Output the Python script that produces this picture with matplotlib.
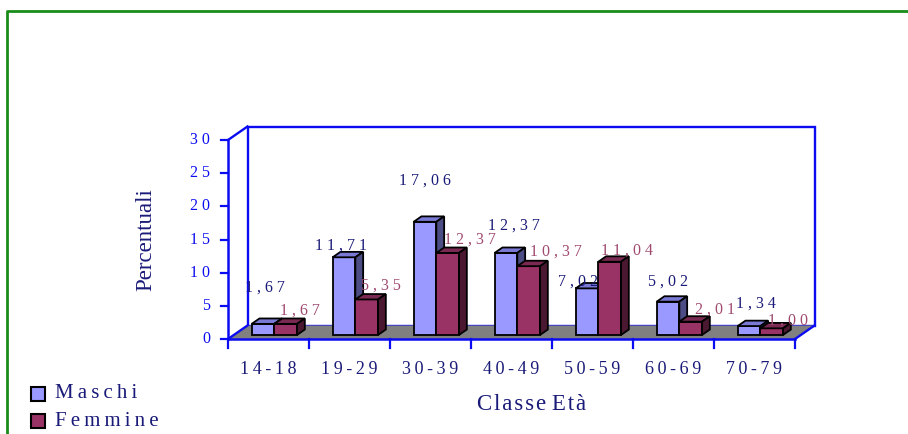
import numpy as np
import matplotlib
matplotlib.use("Agg")
from matplotlib import pyplot as plt
from matplotlib.patches import Polygon, Rectangle

# distribuzione percentuale per classe di eta'
classi = ["14-18", "19-29", "30-39", "40-49", "50-59", "60-69", "70-79"]
maschi = [1.67, 11.71, 17.06, 12.37, 7.02, 5.02, 1.34]
femmine = [1.67, 5.35, 12.37, 10.37, 11.04, 2.01, 1.00]
yticks = [0, 5, 10, 15, 20, 25, 30]

# spostamento delle etichette dei valori (pixel)
off_m = [(2, 36), (-3, 12), (0, 41), (8, 27), (-9, 7), (0, 20), (7, 22)]
off_f = [(14, 13), (14, 14), (22, 13), (27, 15), (17, 11), (24, 12), (16, 8)]

plt.rcParams['font.family'] = ['Liberation Serif', 'DejaVu Serif']

BLUE = "#0c0cf2"
NAVY = "#1a1a78"
ROSE = "#a04a70"
HAIR = "\u200a"
THIN = "\u2009"

def spaced(s, sep=" "):
    return sep.join(s)

fig = plt.figure(figsize=(9.08, 4.34), dpi=100)
W, H = 908, 434
# asse: x = indice categoria, y = percentuale
x0, x1 = 228, 795
y0, y1 = 339, 140
ax = fig.add_axes([x0 / W, (H - y0) / H, (x1 - x0) / W, (y0 - y1) / H])
n = len(classi)
ax.set_xlim(0, n)
ax.set_ylim(0, 30)
ax.axis("off")

pxx = (x1 - x0) / n
pxy = (y0 - y1) / 30.0
DX = 19.5 / pxx
DY = 13.5 / pxy

def P(pts, **kw):
    p = Polygon(pts, closed=True, clip_on=False, **kw)
    ax.add_patch(p)
    return p

# pareti e pavimento
P([(DX, DY), (n + DX, DY), (n + DX, 30 + DY), (DX, 30 + DY)],
  facecolor="white", edgecolor=BLUE, lw=1.7, zorder=1)
P([(0, 0), (n, 0), (n + DX, DY), (DX, DY)],
  facecolor="#808080", edgecolor="none", zorder=2)
ax.plot([0, DX], [0, DY], color=BLUE, lw=1.7, clip_on=False, zorder=2)
ax.plot([0, DX], [30, 30 + DY], color=BLUE, lw=1.7, clip_on=False, zorder=2)
ax.plot([n, n + DX], [0, DY], color=BLUE, lw=1.7, clip_on=False, zorder=2)

# barre 3D
w = 0.28
f0, f1 = 0.3, 0.7
serie = [(maschi, -w, ("#9999ff", "#7a7ad6", "#4d4d85")),
         (femmine, 0.0, ("#993366", "#7a2a52", "#4a1830"))]

for i in range(n):
    for vals, shift, (cf, ct, cs) in serie:
        v = vals[i]
        xl = i + 0.5 + shift + f0 * DX
        yb = f0 * DY
        ddx = (f1 - f0) * DX
        ddy = (f1 - f0) * DY
        kw = dict(edgecolor="black", lw=1.3, joinstyle="miter", zorder=5)
        P([(xl, yb), (xl + w, yb), (xl + w, yb + v), (xl, yb + v)],
          facecolor=cf, **kw)
        P([(xl, yb + v), (xl + w, yb + v), (xl + w + ddx, yb + v + ddy),
           (xl + ddx, yb + v + ddy)], facecolor=ct, **kw)
        P([(xl + w, yb), (xl + w + ddx, yb + ddy), (xl + w + ddx, yb + v + ddy),
           (xl + w, yb + v)], facecolor=cs, **kw)

# etichette dei valori
for i in range(n):
    for vals, shift, offs, col in [(maschi, -w, off_m, NAVY), (femmine, 0.0, off_f, ROSE)]:
        v = vals[i]
        xc = i + 0.5 + shift + w / 2 + f0 * DX
        ax.annotate(spaced(f"{v:.2f}".replace(".", ",")), (xc, v + f0 * DY),
                    xytext=offs[i], textcoords="offset pixels",
                    ha="center", va="center", fontsize=11.5, color=col,
                    annotation_clip=False, zorder=8)

# assi frontali
ax.plot([0, 0], [0, 30], color=BLUE, lw=1.8, clip_on=False, zorder=6)
ax.plot([0, n], [0, 0], color=BLUE, lw=1.8, clip_on=False, zorder=6)
tk = 7 / pxx
for t in yticks:
    ax.plot([-tk, 0], [t, t], color=BLUE, lw=1.6, clip_on=False, zorder=6)
    ax.text(-18 / pxx, t, spaced(str(t)), ha="right", va="center",
            fontsize=11.5, color=BLUE)
for i in range(n + 1):
    ax.plot([i, i], [0, -9 / pxy], color=BLUE, lw=1.6, clip_on=False, zorder=6)
for i, c in enumerate(classi):
    ax.text(i + 0.5, -30 / pxy, spaced(c, THIN), ha="center", va="center",
            fontsize=13, color=NAVY)

fig.text(146 / W, 1 - 240 / H, "Percentuali", rotation=90, ha="center",
         va="center", fontsize=16.5, color=NAVY)
fig.text(532 / W, 1 - 405 / H, spaced("Classe", HAIR) + " " + spaced("Età", HAIR),
         ha="center", va="center", fontsize=16.5, color=NAVY)

# legenda
for k, (lab, col) in enumerate([("Maschi", "#9999ff"), ("Femmine", "#993366")]):
    yc = 394 + 27 * k
    fig.patches.append(Rectangle((31 / W, 1 - (yc + 7) / H), 14 / W, 14 / H,
                                 transform=fig.transFigure, facecolor=col,
                                 edgecolor="black", lw=1.5, zorder=5))
    fig.text(55 / W, 1 - yc / H, spaced(lab, THIN), ha="left", va="center",
             fontsize=15, color=NAVY)

# cornice
fig.add_artist(plt.Line2D([7 / W, 7 / W, 1.0], [0, 1 - 11 / H, 1 - 11 / H],
                          transform=fig.transFigure, color="#1a8c1a", lw=2))

fig.savefig("out.png", dpi=100)
